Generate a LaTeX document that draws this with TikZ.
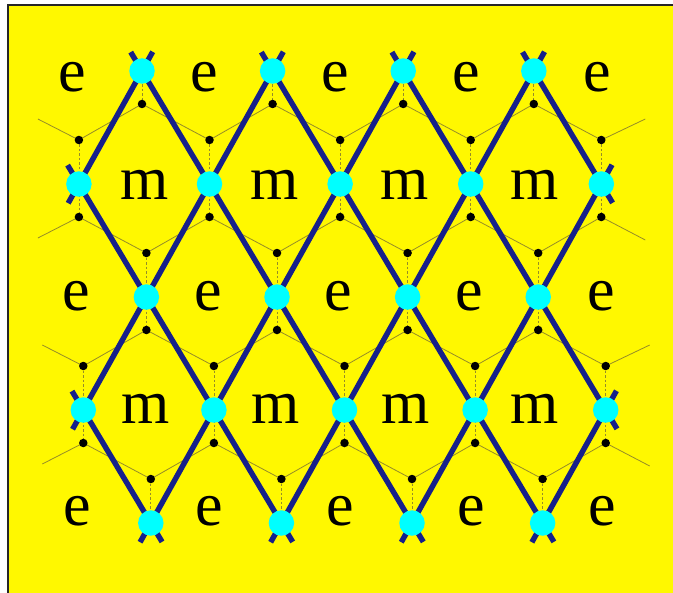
\documentclass[tikz,border=0pt]{standalone}
\usepackage{fontspec}
\setmainfont{Liberation Serif}
\usetikzlibrary{calc}
\definecolor{bgyellow}{RGB}{255,248,0}
\definecolor{latblue}{RGB}{22,32,138}
\definecolor{qcyan}{RGB}{0,255,255}
\definecolor{thinolive}{RGB}{150,140,40}
\begin{document}
\begin{tikzpicture}[x=1bp,y=-1bp,
  qubit/.style={circle,fill=qcyan,minimum size=25.5bp,inner sep=0pt},
  vdot/.style={circle,fill=black,minimum size=8.5bp,inner sep=0pt},
  bond/.style={draw=latblue,line width=5.4bp,shorten <=-22bp,shorten >=-22bp},
  hexedge/.style={draw=thinolive,line width=0.8bp},
  link/.style={draw=thinolive,line width=0.8bp,dash pattern=on 2.5bp off 2bp},
  lbl/.style={inner sep=0pt,font=\fontsize{62bp}{62bp}\selectfont}]
\useasboundingbox (0,0) rectangle (673,593);
\begin{scope}
\clip (-5,-5) rectangle (690,610);
\path[fill=white] (-5,-5) rectangle (690,610);
\path[fill=bgyellow,draw=black!85,line width=2bp] (8,5) rectangle (700,620);
\end{scope}
% lattice positions
\foreach \r in {0,...,4}{
  \pgfmathtruncatemacro\odd{mod(\r,2)}
  \foreach \k in {0,...,4}{
    \pgfmathsetmacro\xx{142+2.2*\r+130.6*\k-65.3*\odd}
    \pgfmathsetmacro\yy{71+113*\r}
    \coordinate (q-\r-\k) at (\xx,\yy);
    \coordinate (a-\r-\k) at (\xx,\yy-44);
    \coordinate (b-\r-\k) at (\xx,\yy+33);
  }
}
% thin honeycomb edges
\foreach \r/\rn in {0/1,2/3}{
  \foreach \k [evaluate=\k as \kn using int(\k+1)] in {0,...,3}{
    \draw[hexedge] (a-\rn-\k) -- (b-\r-\k) -- (a-\rn-\kn);
  }
}
\foreach \r/\rn in {1/2,3/4}{
  \foreach \k [evaluate=\k as \kn using int(\k+1)] in {0,...,3}{
    \draw[hexedge] (b-\r-\k) -- (a-\rn-\k) -- (b-\r-\kn);
  }
}
\foreach \r in {1,3}{
  \coordinate (ua-\r) at ($(a-\r-0)+(-41,-21)$);
  \coordinate (ub-\r) at ($(a-\r-4)+(44,-21)$);
  \coordinate (da-\r) at ($(b-\r-0)+(-41,21)$);
  \coordinate (db-\r) at ($(b-\r-4)+(44,23)$);
  \draw[hexedge] (ua-\r) -- (a-\r-0);
  \draw[hexedge] (ub-\r) -- (a-\r-4);
  \draw[hexedge] (da-\r) -- (b-\r-0);
  \draw[hexedge] (db-\r) -- (b-\r-4);
}
% dashed links
\foreach \k in {0,...,3}{
  \draw[link] (q-0-\k) -- (b-0-\k);
  \draw[link] (a-2-\k) -- (b-2-\k);
  \draw[link] (a-4-\k) -- (q-4-\k);
}
\foreach \k in {0,...,4}{
  \draw[link] (a-1-\k) -- (b-1-\k);
  \draw[link] (a-3-\k) -- (b-3-\k);
}
% thick bonds
\draw[bond] (q-1-0) -- (q-4-1);
\draw[bond] (q-0-0) -- (q-4-2);
\draw[bond] (q-0-1) -- (q-4-3);
\draw[bond] (q-0-2) -- (q-3-4);
\draw[bond] (q-0-3) -- (q-1-4);
\draw[bond] (q-3-0) -- (q-4-0);
\draw[bond] (q-0-0) -- (q-1-0);
\draw[bond] (q-0-1) -- (q-3-0);
\draw[bond] (q-0-2) -- (q-4-0);
\draw[bond] (q-0-3) -- (q-4-1);
\draw[bond] (q-1-4) -- (q-4-2);
\draw[bond] (q-3-4) -- (q-4-3);
% qubits and dots
\foreach \r/\km in {0/3,1/4,2/3,3/4,4/3}{
  \foreach \k in {0,...,\km}{
    \node[qubit] (n-\r-\k) at (q-\r-\k) {};
  }
}
\foreach \k in {0,...,3}{
  \node[vdot] (db0-\k) at (b-0-\k) {};
  \node[vdot] (da2-\k) at (a-2-\k) {};
  \node[vdot] (db2-\k) at (b-2-\k) {};
  \node[vdot] (da4-\k) at (a-4-\k) {};
}
\foreach \k in {0,...,4}{
  \node[vdot] (da1-\k) at (a-1-\k) {};
  \node[vdot] (db1-\k) at (b-1-\k) {};
  \node[vdot] (da3-\k) at (a-3-\k) {};
  \node[vdot] (db3-\k) at (b-3-\k) {};
}
% labels
\foreach \x [count=\i] in {72,204,335,466,597}{\node[lbl] (e0-\i) at (\x,77) {e};}
\foreach \x [count=\i] in {145,275,405,535}{\node[lbl] (m1-\i) at (\x,185) {m};}
\foreach \x [count=\i] in {76,208,338,469,601}{\node[lbl] (e2-\i) at (\x,296) {e};}
\foreach \x [count=\i] in {146,276,406,535}{\node[lbl] (m3-\i) at (\x,409) {m};}
\foreach \x [count=\i] in {77,209,340,471,602}{\node[lbl] (e4-\i) at (\x,511) {e};}
\end{tikzpicture}
\end{document}
